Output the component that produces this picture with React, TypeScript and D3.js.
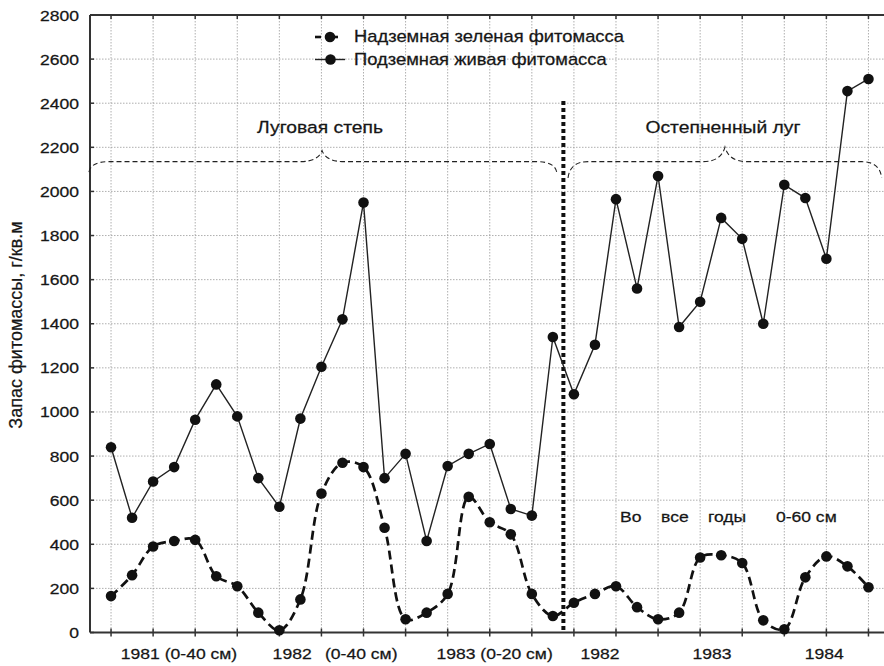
import React from "react";
import * as d3 from "d3";

// ---- data ----
const aboveGround: number[] = [
  165, 260, 390, 415, 420, 255, 210, 90, 10, 150, 630, 770, 750, 475, 60, 90, 175,
  615, 500, 445, 175, 75,
  135, 175, 210, 115, 60, 90, 340, 350, 315, 55, 15, 250, 345, 300, 205,
];
const belowGround: number[] = [
  840, 520, 685, 750, 965, 1125, 980, 700, 570, 970, 1205, 1420, 1950, 700, 810, 415, 755,
  810, 855, 560, 530, 1340,
  1080, 1305, 1965, 1560, 2070, 1385, 1500, 1880, 1785, 1400, 2030, 1970, 1695, 2455, 2510,
];
const yTicks: number[] = [0, 200, 400, 600, 800, 1000, 1200, 1400, 1600, 1800, 2000, 2200, 2400, 2600, 2800];
const xTickIdx: number[] = d3.range(0, 37, 2);
const legendLabels: string[] = ["Надземная зеленая фитомасса", "Подземная живая фитомасса"];
const bottomLabels: { text: string; at: number; anchor: string }[] = [
  { text: "1981 (0-40 см)", at: 3.23, anchor: "middle" },
  { text: "1982", at: 7.68, anchor: "start" },
  { text: "(0-40 см)", at: 10.17, anchor: "start" },
  { text: "1983 (0-20 см)", at: 18.23, anchor: "middle" },
  { text: "1982", at: 23.24, anchor: "middle" },
  { text: "1983", at: 28.56, anchor: "middle" },
  { text: "1984", at: 33.9, anchor: "middle" },
];
const midWords: { text: string; at: number }[] = [
  { text: "Во", at: 24.19 },
  { text: "все", at: 26.14 },
  { text: "годы", at: 28.37 },
  { text: "0-60 см", at: 31.6 },
];
const regions: { label: string; x0: number; xm: number; x1: number; yEnd: number; yBase: number; yTip: number }[] = [
  { label: "Луговая степь", x0: -1.05, xm: 10.03, x1: 21.18, yEnd: 2088, yBase: 2135, yTip: 2185 },
  { label: "Остепненный луг", x0: 21.72, xm: 29.18, x1: 36.63, yEnd: 2061, yBase: 2135, yTip: 2201 },
];
const splitIndex = 21.5;
const splitTop = 2410;

const W = 884;
const H = 666;
const FONT = "'Liberation Sans', Arial, sans-serif";
const SX = 1.17;

function T(props: {
  x: number; y: number; size: number; anchor?: string; children: React.ReactNode; rotate?: number; baseline?: string; sx?: number;
}) {
  const { x, y, size, anchor = "start", children, rotate = 0, baseline, sx = SX } = props;
  const tr = rotate
    ? `translate(${x},${y}) rotate(${rotate}) scale(1,${sx})`
    : `translate(${x},${y}) scale(${sx},1)`;
  return (
    <text
      transform={tr}
      fontFamily={FONT}
      fontSize={size}
      textAnchor={anchor as any}
      dominantBaseline={baseline as any}
      fill="#161616"
      stroke="#161616"
      strokeWidth={0.25}
    >
      {children}
    </text>
  );
}

export default function App() {
  const x = d3.scaleLinear().domain([-1, 37]).range([90, 889.5]);
  const y = d3.scaleLinear().domain([0, 2800]).range([632.5, 15]);
  const left = x(-1);
  const right = W;
  const top = y(2800);
  const bottom = y(0);

  const solidLine = d3
    .line<number>()
    .x((_, i) => x(i))
    .y((d) => y(d));
  const dashedLine = d3
    .line<number>()
    .x((_, i) => x(i))
    .y((d) => y(d))
    .curve(d3.curveCatmullRom.alpha(0.5));

  const bracePath = (r: (typeof regions)[number]) => {
    const p = d3.path();
    const dx = 0.95;
    const dt = 1.05;
    p.moveTo(x(r.x0), y(r.yEnd));
    p.quadraticCurveTo(x(r.x0) + 2, y(r.yBase), x(r.x0 + dx), y(r.yBase));
    p.lineTo(x(r.xm - dt), y(r.yBase));
    p.quadraticCurveTo(x(r.xm) - 4, y(r.yBase), x(r.xm), y(r.yTip));
    p.quadraticCurveTo(x(r.xm) + 4, y(r.yBase), x(r.xm + dt), y(r.yBase));
    p.lineTo(x(r.x1 - dx), y(r.yBase));
    p.quadraticCurveTo(x(r.x1) - 2, y(r.yBase), x(r.x1), y(r.yEnd));
    return p.toString();
  };

  return (
    <svg width={W} height={H} style={{ position: "absolute", left: 0, top: 0, background: "#fff" }}>
      <rect x={0} y={0} width={W} height={H} fill="#fff" />
      {/* grid */}
      {yTicks.slice(1, -1).map((v) => (
        <line key={"gy" + v} x1={left} x2={right} y1={y(v)} y2={y(v)} stroke="#9a9a9a" strokeWidth={0.8} strokeDasharray="1.5,1.5" />
      ))}
      {xTickIdx.map((i) => (
        <line key={"gx" + i} x1={x(i)} x2={x(i)} y1={top} y2={bottom} stroke="#9a9a9a" strokeWidth={0.8} strokeDasharray="1.5,1.5" />
      ))}
      {/* axes frame */}
      <line x1={left} x2={right} y1={bottom} y2={bottom} stroke="#333" strokeWidth={2} />
      <line x1={left} x2={right} y1={top} y2={top} stroke="#333" strokeWidth={2} />
      <line x1={left} x2={left} y1={top} y2={bottom} stroke="#333" strokeWidth={2} />
      {xTickIdx.map((i) => (
        <g key={"tx" + i}>
          <line x1={x(i)} x2={x(i)} y1={bottom - 4} y2={bottom + 4} stroke="#333" strokeWidth={1.5} />
          <line x1={x(i)} x2={x(i)} y1={top} y2={top + 4} stroke="#333" strokeWidth={1.5} />
        </g>
      ))}
      {yTicks.map((v) => (
        <g key={"ty" + v}>
          <line x1={left} x2={left + 4} y1={y(v)} y2={y(v)} stroke="#333" strokeWidth={1.5} />
          <T x={79} y={y(v)} size={15} anchor="end" baseline="central">{v}</T>
        </g>
      ))}
      {/* y label */}
      <T x={22} y={325} size={18} anchor="middle" rotate={-90} sx={1}>Запас фитомассы, г/кв.м</T>
      {/* bottom labels */}
      {bottomLabels.map((b, i) => (
        <T key={"bl" + i} x={x(b.at)} y={659} size={15} anchor={b.anchor}>{b.text}</T>
      ))}
      {/* braces and region labels */}
      {regions.map((r, i) => (
        <g key={"rg" + i}>
          <path d={bracePath(r)} fill="none" stroke="#222" strokeWidth={1.1} strokeDasharray="5,3" />
          <T x={x(r.xm) - 2} y={133} size={16.5} anchor="middle">{r.label}</T>
        </g>
      ))}
      {/* split line */}
      <line x1={x(splitIndex)} x2={x(splitIndex)} y1={y(splitTop)} y2={bottom} stroke="#111" strokeWidth={4} strokeDasharray="4,3" />
      {/* mid words */}
      {midWords.map((m, i) => (
        <T key={"mw" + i} x={x(m.at)} y={y(0) - 111} size={15}>{m.text}</T>
      ))}
      {/* series */}
      <path d={dashedLine(aboveGround) || ""} fill="none" stroke="#111" strokeWidth={2.7} strokeDasharray="9,5" />
      <path d={solidLine(belowGround) || ""} fill="none" stroke="#222" strokeWidth={1.4} />
      {aboveGround.map((d, i) => (
        <circle key={"a" + i} cx={x(i)} cy={y(d)} r={5.3} fill="#111" />
      ))}
      {belowGround.map((d, i) => (
        <circle key={"b" + i} cx={x(i)} cy={y(d)} r={5.3} fill="#111" />
      ))}
      {/* legend */}
      <g>
        <line x1={315} x2={321} y1={37} y2={37} stroke="#111" strokeWidth={2.6} />
        <line x1={326} x2={338} y1={37} y2={37} stroke="#111" strokeWidth={2.6} />
        <circle cx={330} cy={37} r={5.3} fill="#111" />
        <T x={354} y={37} size={15.7} baseline="central">{legendLabels[0]}</T>
        <line x1={315} x2={345} y1={59.5} y2={59.5} stroke="#222" strokeWidth={1.4} />
        <circle cx={330.5} cy={59.5} r={5.3} fill="#111" />
        <T x={354} y={59.5} size={15.7} baseline="central">{legendLabels[1]}</T>
      </g>
    </svg>
  );
}
